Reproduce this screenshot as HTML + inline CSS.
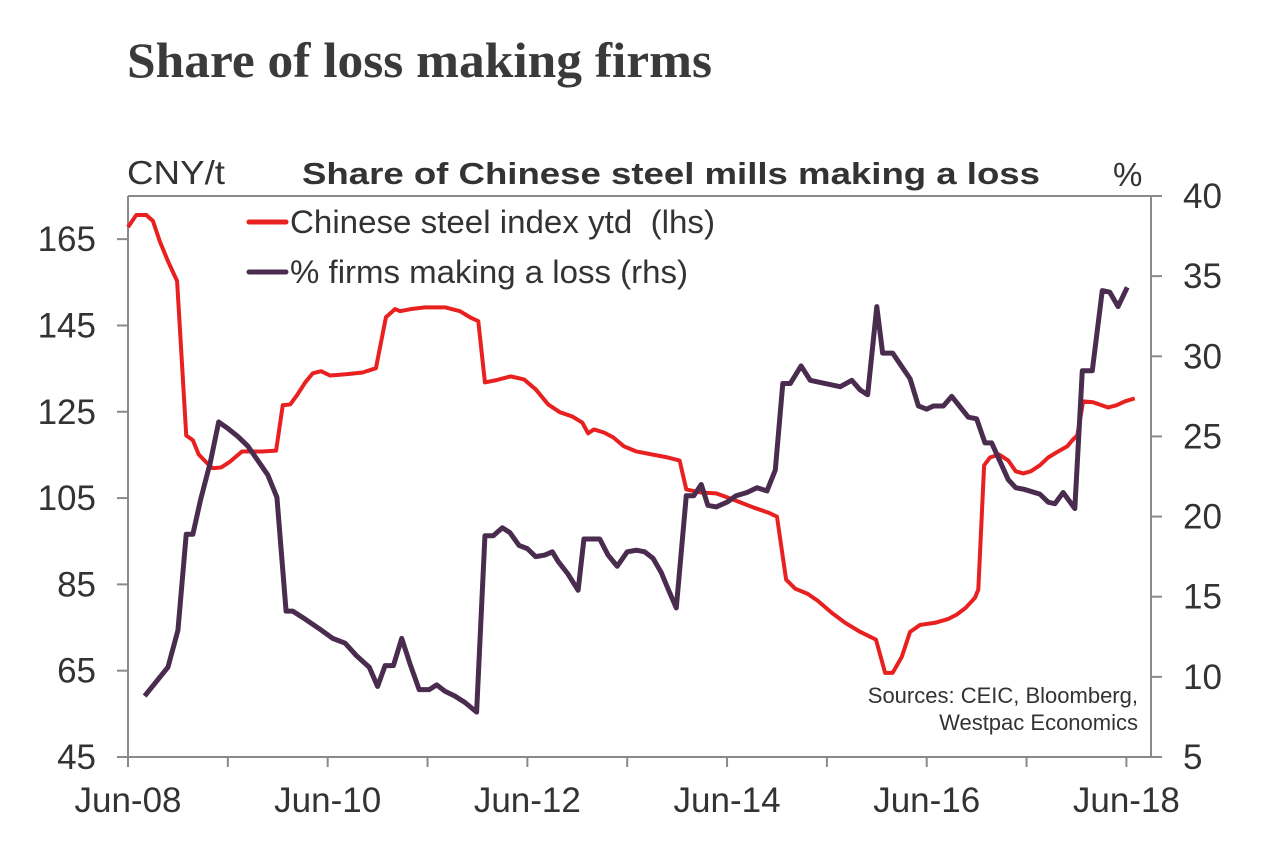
<!DOCTYPE html>
<html><head><meta charset="utf-8"><style>
html,body{margin:0;padding:0;background:#fff;}
svg{display:block;font-family:"Liberation Sans",Arial,sans-serif;}
</style></head><body>
<svg id="chart" width="1262" height="862" viewBox="0 0 1262 862" xmlns="http://www.w3.org/2000/svg">
<text x="127" y="77" font-family="Liberation Serif, serif" font-weight="bold" font-size="50" fill="#3a3a3a" textLength="585" lengthAdjust="spacingAndGlyphs">Share of loss making firms</text>
<text x="302" y="184" font-weight="bold" font-size="31" fill="#333" textLength="738" lengthAdjust="spacingAndGlyphs">Share of Chinese steel mills making a loss</text>
<text x="127" y="184" font-size="33" fill="#333" textLength="98" lengthAdjust="spacingAndGlyphs">CNY/t</text>
<text x="1113" y="186" font-size="33" fill="#333">%</text>
<g id="plot"></g>
<text x="1138" y="703" font-size="22" fill="#333" text-anchor="end">Sources: CEIC, Bloomberg,</text>
<text x="1138" y="730" font-size="22" fill="#333" text-anchor="end">Westpac Economics</text>
<line x1="249" y1="222" x2="286" y2="222" stroke="#e8201f" stroke-width="5" stroke-linecap="round"/>
<text x="290" y="233" font-size="32" fill="#333" textLength="425" lengthAdjust="spacingAndGlyphs" xml:space="preserve">Chinese steel index ytd  (lhs)</text>
<line x1="249" y1="272" x2="286" y2="272" stroke="#4a2c4f" stroke-width="5" stroke-linecap="round"/>
<text x="290" y="283" font-size="32" fill="#333" textLength="398" lengthAdjust="spacingAndGlyphs">% firms making a loss (rhs)</text>
</svg>
<script>
// months since Jun-08 and values
const steelMonths=[0,1,2.2,3,3.8,4.8,5.9,7,7.8,8.5,9.4,10.2,11.2,12.3,13.7,16.1,17.8,18.6,19.5,20.3,21.3,22.2,23.2,24.3,26.2,28.2,29.8,31,32.1,32.7,34,35.7,38.1,39.9,41.1,42.1,42.9,44.2,46,47.6,49,50.5,51.9,53.4,54.6,55.3,56,57.2,58.3,59.6,61.1,63,64.9,66.3,67.1,68.8,70.7,72.1,73.6,75.2,77,78,79.1,80.2,81.7,82.9,84.6,86.2,88,89.9,91,91.9,93,94,95.2,97,98.6,99.6,100.7,101.8,102.2,102.9,103.6,104.7,105.8,106.7,107.6,108.5,109.6,110.6,111.8,112.9,113.5,114.1,114.8,116,117.8,118.8,119.8,121];
const steelValues=[167.8,170.6,170.6,169.2,164.6,159.9,155.3,119.5,118.4,115.1,113.3,111.9,112.1,113.5,115.8,115.8,116,126.5,126.7,128.8,131.8,133.9,134.4,133.4,133.7,134.1,135.1,146.9,148.8,148.3,148.8,149.2,149.2,148.3,146.9,146,131.8,132.3,133.2,132.5,130.2,126.7,124.9,123.9,122.5,120,120.9,120.2,119.1,117,115.8,115.1,114.4,113.7,107,106.3,106.1,105.1,104,102.8,101.6,100.7,86.1,84,82.8,81.2,78.4,76.1,74,72.2,64.5,64.5,68.2,74,75.6,76.1,77,78,79.6,81.9,83.8,112.6,114.4,115.1,113.7,111.2,110.7,111.2,112.6,114.4,115.8,117,118.4,119.5,127.4,127.2,126,126.5,127.4,128.1];
const lossMonths=[2,4.8,6,7,7.8,8.7,9.9,10.9,12,13.2,14.4,15.6,16.8,17.9,19,19.8,21.3,23,24.6,26.1,27.5,29,30,30.9,31.9,32.9,33.9,35,36.2,37.1,38.1,39.3,40.5,41.9,42.9,43.9,45,45.9,47,48,49,50.1,51,51.7,52.9,54.1,54.8,56.7,57.7,58.8,60,61.1,62.1,63.1,64.1,64.9,65.9,67.1,68,68.9,69.7,70.7,72,73.1,74.4,75.6,76.8,77.8,78.7,79.6,80.9,82,85.6,87,88,88.9,90,90.7,91.9,94,95,96,96.8,98,99,101,102,103,103.8,105.8,106.7,107.7,109.6,110.6,111.4,112.4,113.8,114.7,115.9,117.1,118,119,120.1];
const lossValues=[8.8,10.6,12.9,18.9,18.9,21,23.4,25.9,25.5,25,24.4,23.5,22.6,21.2,14.1,14.1,13.6,13,12.4,12.1,11.3,10.6,9.4,10.7,10.7,12.4,10.8,9.2,9.2,9.5,9.1,8.8,8.4,7.8,18.8,18.8,19.3,19,18.2,18,17.5,17.6,17.8,17.2,16.4,15.4,18.6,18.6,17.6,16.9,17.8,17.9,17.8,17.4,16.5,15.5,14.3,21.3,21.3,22,20.7,20.6,20.9,21.3,21.5,21.8,21.6,22.9,28.3,28.3,29.4,28.5,28.1,28.5,27.9,27.6,33.1,30.2,30.2,28.6,26.9,26.7,26.9,26.9,27.5,26.2,26.1,24.6,24.6,22.3,21.8,21.7,21.4,20.9,20.8,21.5,20.5,29.1,29.1,34.1,34,33.1,34.3];
const leftTicks=[45,65,85,105,125,145,165];
const rightTicks=[5,10,15,20,25,30,35,40];
const xLabels=["Jun-08","Jun-10","Jun-12","Jun-14","Jun-16","Jun-18"];

const X0=128,X1=1151,Y0=196,Y1=757,MPX=8.32;
const x=m=>X0+m*MPX;
const yL=v=>Y1-(v-45)/(175-45)*(Y1-Y0);
const yR=v=>Y1-(v-5)/(40-5)*(Y1-Y0);
const NS="http://www.w3.org/2000/svg";
const g=document.getElementById('plot');
function mk(t,a){const e=document.createElementNS(NS,t);for(const k in a)e.setAttribute(k,a[k]);g.appendChild(e);return e;}
const ax="#8a8a8a";
let e;
e=mk('line',{x1:X0,y1:Y0,x2:X1,y2:Y0,stroke:ax,'stroke-width':2});


e=mk('line',{x1:X0,y1:Y0,x2:X0,y2:Y1,stroke:ax,'stroke-width':2});


e=mk('line',{x1:X1,y1:Y0,x2:X1,y2:Y1,stroke:ax,'stroke-width':2});


e=mk('line',{x1:X0-11,y1:Y1,x2:X1+11,y2:Y1,stroke:ax,'stroke-width':2});


leftTicks.forEach(v=>{
  e=mk('line',{x1:X0-11,y1:yL(v),x2:X0,y2:yL(v),stroke:ax,'stroke-width':2});
  
  
  e=mk('text',{x:96,y:yL(v)+12,'text-anchor':'end','font-size':35,fill:'#333'});
  e.textContent=v;
  
  
});
rightTicks.forEach(v=>{
  e=mk('line',{x1:X1,y1:yR(v),x2:X1+11,y2:yR(v),stroke:ax,'stroke-width':2});
  
  
  e=mk('text',{x:1183,y:yR(v)+12,'text-anchor':'start','font-size':35,fill:'#333'});
  e.textContent=v;
  
  
});
for(let i=0;i<=10;i++){
  e=mk('line',{x1:x(i*12),y1:Y1,x2:x(i*12),y2:Y1+10,stroke:ax,'stroke-width':2});
  
  
}
xLabels.forEach((l,i)=>{
  e=mk('text',{x:x(i*24),y:812,'text-anchor':'middle','font-size':35,fill:'#333'});
  e.textContent=l;
  
  
});
e=mk('polyline',{points:steelMonths.map((m,i)=>x(m)+','+yL(steelValues[i])).join(' '),fill:'none',stroke:'#e8201f','stroke-width':4,'stroke-linejoin':'round'});


e=mk('polyline',{points:lossMonths.map((m,i)=>x(m)+','+yR(lossValues[i])).join(' '),fill:'none',stroke:'#4a2c4f','stroke-width':5,'stroke-linejoin':'round'});


</script>
</body></html>
